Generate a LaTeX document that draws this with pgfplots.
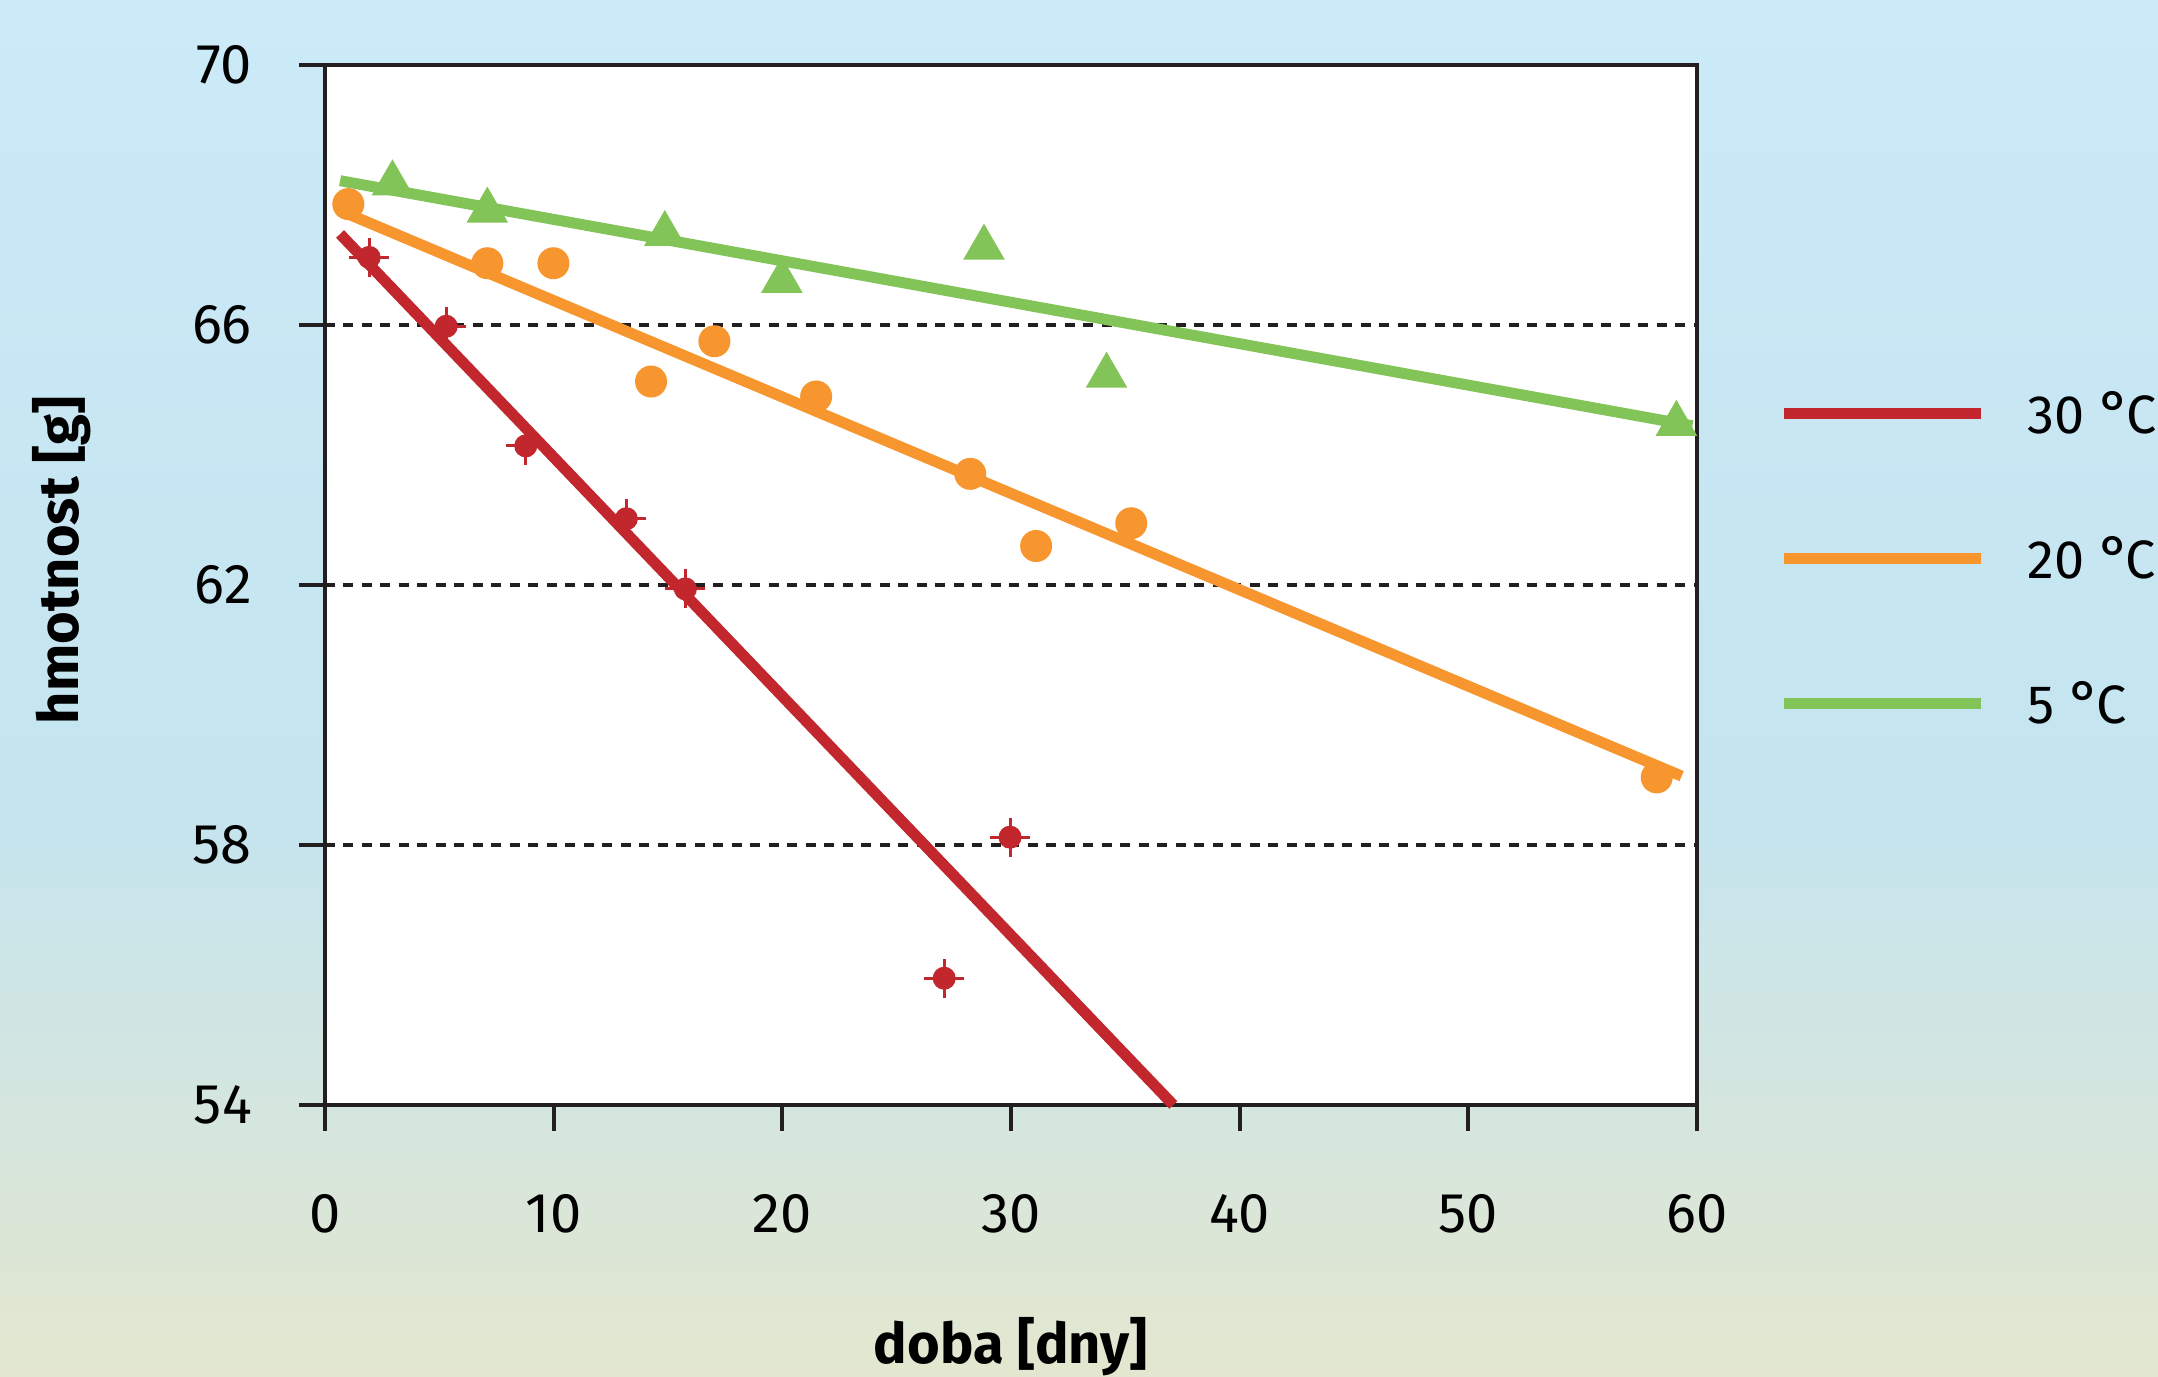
\documentclass[border=0pt]{standalone}
\usepackage{fontspec}
\setmainfont{Fira Sans}
\usepackage{pgfplots}
\pgfplotsset{compat=1.18}
\definecolor{cred}{HTML}{C1272D}
\definecolor{corange}{HTML}{F7962F}
\definecolor{cgreen}{HTML}{82C458}
\definecolor{axcol}{HTML}{231F20}
\definecolor{bgtop}{HTML}{CCEAF8}
\definecolor{bgmid}{HTML}{C4E4EF}
\definecolor{bgbot}{HTML}{E3E7CF}
\newcommand{\degC}{{\fontsize{12}{12}\selectfont °}\kern-0.9pt C}
\begin{document}
\begin{tikzpicture}
\fontsize{11.2}{13}\selectfont
\shade[top color=bgtop, bottom color=bgmid] (-65pt,60pt) rectangle (366.6pt,221pt);
\shade[top color=bgmid, bottom color=bgbot] (-65pt,-54.4pt) rectangle (366.6pt,60.01pt);
\begin{axis}[
  at={(0,0)}, anchor=south west,
  scale only axis, width=274.4pt, height=208pt,
  xmin=0, xmax=60, ymin=54, ymax=70,
  xtick={0,10,...,60}, ytick={54,58,...,70},
  axis background/.style={fill=white},
  axis line style={line width=0.8pt, color=axcol},
  tick style={line width=0.8pt, color=axcol},
  tick align=outside, major tick length=5.2pt,
  xtick pos=bottom, ytick pos=left,
  ymajorgrids,
  major grid style={line width=0.8pt, color=axcol, dash pattern=on 2pt off 1.7pt},
  ticklabel style={font=\fontsize{11.2}{13}\selectfont},
  xticklabel style={yshift=-8.8pt},
  yticklabel style={xshift=-5.5pt},
  /pgf/number format/assume math mode=true,
  xlabel={\bfseries doba [dny]},
  ylabel={\bfseries hmotnost [g]},
  label style={font=\fontsize{11.2}{13}\selectfont},
  xlabel style={at={(axis description cs:0.5,-0.232)}, anchor=center},
  ylabel style={at={(axis description cs:-0.192,0.524)}, anchor=center},
  clip=false,
  legend style={at={(axis description cs:1.059,0.685)}, anchor=north west,
    draw=none, fill=none, inner sep=0pt, row sep=21pt,
    font=\fontsize{10.8}{13}\selectfont,
    nodes={inner sep=0pt, text height=8pt, text depth=0pt}},
  legend cell align=left,
  legend image code/.code={\draw[#1] (0pt,0pt) -- (39.4pt,0pt); \path (47.6pt,0pt);},
]
% trend lines
\addplot[cred, line width=2.2pt] coordinates {(0.66,67.4) (37.1,54)};
\addlegendentry{30 \degC}
\addplot[corange, line width=2.2pt] coordinates {(0.66,67.76) (59.33,59.06)};
\addlegendentry{20 \degC}
\addplot[cgreen, line width=2.2pt] coordinates {(0.66,68.22) (59.8,64.45)};
\addlegendentry{5 \degC}
% data points
\addplot[forget plot, only marks, mark=*, mark size=3pt, color=corange] coordinates {
(1.02,67.86) (7.1,66.95) (9.99,66.95) (14.26,65.13) (17.03,65.75)
(21.48,64.9) (28.22,63.71) (31.1,62.6) (35.26,62.95) (58.24,59.04)};
\addplot[forget plot, only marks, mark=triangle*, mark size=4.4pt, color=cgreen] coordinates {
(2.95,68.18) (7.1,67.76) (14.86,67.4) (19.98,66.68) (28.82,67.19) (34.18,65.22) (59.1,64.48)};
\addplot[forget plot, only marks, mark=*, mark size=2.1pt, color=cred,
  error bars/.cd, x dir=both, x fixed=0.87, y dir=both, y fixed=0.3,
  error mark=none, error bar style={line width=0.6pt, color=cred}] coordinates {
(1.93,67.04) (5.3,65.98) (8.78,64.14) (13.18,63.02) (15.76,61.94) (29.96,58.12) (27.08,55.95)};
\end{axis}
\pgfresetboundingbox
\useasboundingbox (-65pt,-54.4pt) rectangle (366.6pt,221pt);
\end{tikzpicture}
\end{document}
